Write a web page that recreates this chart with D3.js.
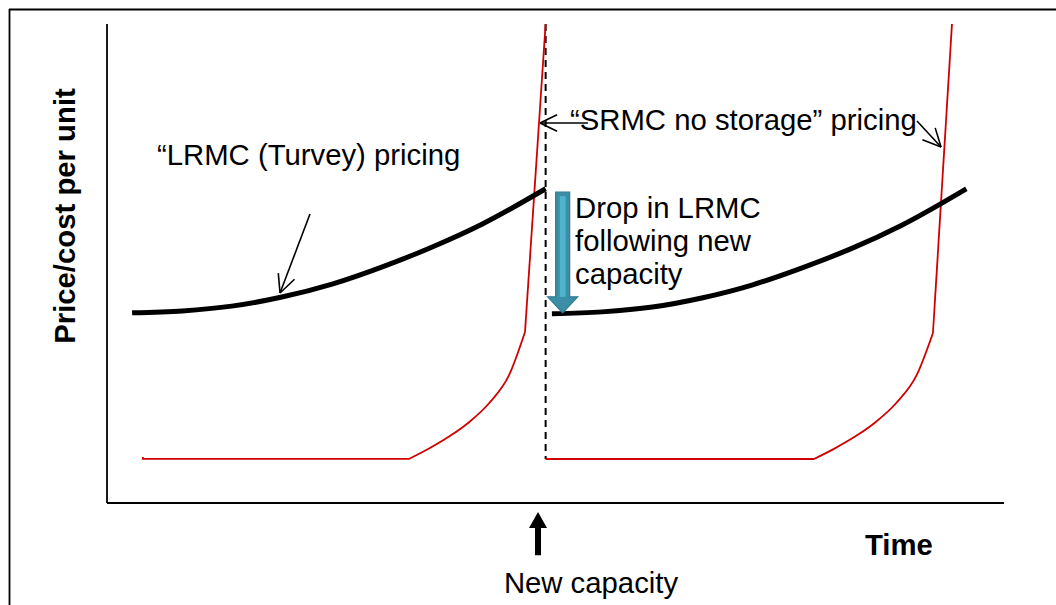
<!DOCTYPE html>
<html><head><meta charset="utf-8">
<script src="https://cdn.jsdelivr.net/npm/d3@7"></script>
<style>
html,body{margin:0;padding:0;background:#fff;}
svg{display:block;}
text{font-family:"Liberation Sans",Arial,sans-serif;}
</style></head>
<body>
<script>
// ---- data (conceptual units: time 0..100, price 0..100) ----
const lrmc1X = [2.8, 8.4, 13.9, 19.5, 25.1, 30.7, 36.2, 41.8, 48.9];
const lrmc1Y = [39.7, 40.1, 41.1, 43.0, 45.7, 49.3, 53.4, 58.2, 65.6];
const lrmc2X = [49.6, 55.2, 60.8, 66.3, 71.9, 77.5, 83.1, 88.6, 95.8];
const lrmc2Y = [39.5, 39.9, 40.9, 42.8, 45.5, 49.1, 53.2, 58.0, 65.6];

const srmc1FlatX = [4.0, 4.0, 33.7];
const srmc1FlatY = [9.6, 9.2, 9.2];
const srmc1CurveX = [33.67, 35.90, 38.13, 40.36, 42.59, 44.82, 46.60];
const srmc1CurveY = [9.19, 11.36, 13.86, 16.87, 20.83, 26.68, 35.70];
const srmc1SteepX = [46.6, 48.9];
const srmc1SteepY = [35.7, 100];

const srmc2FlatX = [48.9, 78.82];
const srmc2FlatY = [9.19, 9.19];
const srmc2CurveX = [78.82, 81.10, 83.39, 85.67, 87.96, 90.26, 92.08];
const srmc2CurveY = [9.19, 11.36, 13.86, 16.87, 20.83, 26.68, 35.49];
const srmc2SteepX = [92.08, 94.2];
const srmc2SteepY = [35.49, 100];

const capacityTime = 48.9;           // new capacity added (dashed line)
const capacityLow = 9.2, capacityHigh = 100;
const dropX = 50.8, dropFrom = 64.9, dropTo = 39.7;   // drop in LRMC arrow

const yAxisLabel = "Price/cost per unit";
const xAxisLabel = "Time";
const labelTurvey = "\u201CLRMC (Turvey) pricing";
const labelSRMC = "\u201CSRMC no storage\u201D pricing";
const labelDrop = ["Drop in LRMC", "following new", "capacity"];
const labelNewCap = "New capacity";

const W = 1056, H = 605;
const svg = d3.select("body").append("svg").attr("width", W).attr("height", H);

const x = d3.scaleLinear().domain([0, 100]).range([107, 1004]);
const y = d3.scaleLinear().domain([0, 100]).range([503, 24]);

// outer frame (top and left visible)
svg.append("line").attr("x1", 9).attr("y1", 9.5).attr("x2", W).attr("y2", 9.5)
  .attr("stroke", "#000").attr("stroke-width", 1.8);
svg.append("line").attr("x1", 9.5).attr("y1", 9).attr("x2", 9.5).attr("y2", H)
  .attr("stroke", "#000").attr("stroke-width", 1.8);

// axes
svg.append("line").attr("x1", x(0)).attr("y1", y(100)).attr("x2", x(0)).attr("y2", y(0))
  .attr("stroke", "#000").attr("stroke-width", 1.8);
svg.append("line").attr("x1", x(0)).attr("y1", y(0)).attr("x2", x(100)).attr("y2", y(0))
  .attr("stroke", "#000").attr("stroke-width", 1.8);

const zip = (xs, ys) => xs.map((v, i) => [v, ys[i]]);
const lineLin = d3.line().x(d => x(d[0])).y(d => y(d[1]));
const lineMono = d3.line().x(d => x(d[0])).y(d => y(d[1])).curve(d3.curveMonotoneX);

// dashed capacity line
svg.append("line").attr("x1", x(capacityTime)).attr("x2", x(capacityTime))
  .attr("y1", y(capacityHigh)).attr("y2", y(capacityLow))
  .attr("stroke", "#000").attr("stroke-width", 2).attr("stroke-dasharray", "7,5");

// SRMC red lines
const red = "#d00000";
[[srmc1FlatX, srmc1FlatY, lineLin], [srmc1CurveX, srmc1CurveY, lineMono], [srmc1SteepX, srmc1SteepY, lineLin],
 [srmc2FlatX, srmc2FlatY, lineLin], [srmc2CurveX, srmc2CurveY, lineMono], [srmc2SteepX, srmc2SteepY, lineLin]]
 .forEach(([xs, ys, gen]) => {
  svg.append("path").attr("d", gen(zip(xs, ys))).attr("fill", "none")
    .attr("stroke", red).attr("stroke-width", 1.8).attr("stroke-linejoin", "round");
 });

// LRMC black curves
[[lrmc1X, lrmc1Y], [lrmc2X, lrmc2Y]].forEach(([xs, ys]) => {
  svg.append("path").attr("d", lineMono(zip(xs, ys))).attr("fill", "none")
    .attr("stroke", "#000").attr("stroke-width", 5);
});

// blue drop arrow
(function () {
  const cx = x(dropX), y0 = y(dropFrom), y1 = y(dropTo);
  const sw = 7, hw = 15, hl = 16;
  const pts = [[cx - sw, y0], [cx + sw, y0], [cx + sw, y1 - hl], [cx + hw, y1 - hl], [cx, y1],
               [cx - hw, y1 - hl], [cx - sw, y1 - hl]];
  svg.append("path").attr("d", "M" + pts.map(p => p.join(",")).join("L") + "Z")
    .attr("fill", "#3a8ea6").attr("stroke", "#2f7c93").attr("stroke-width", 1.2);
  svg.append("rect").attr("x", cx - 3).attr("y", y0 + 4).attr("width", 6).attr("height", (y1 - hl) - y0 - 4)
    .attr("fill", "#4fb3cc");
})();

// thin annotation arrows with open V heads
function arrow(x1, y1, x2, y2, len, ang) {
  const g = svg.append("g").attr("stroke", "#000").attr("stroke-width", 1.6).attr("fill", "none");
  g.append("line").attr("x1", x1).attr("y1", y1).attr("x2", x2).attr("y2", y2);
  const a = Math.atan2(y1 - y2, x1 - x2);
  [ang, -ang].forEach(da => {
    g.append("line").attr("x1", x2).attr("y1", y2)
      .attr("x2", x2 + len * Math.cos(a + da)).attr("y2", y2 + len * Math.sin(a + da));
  });
}
arrow(x(22.63), y(60.33), x(19.29), y(43.84), 20, 0.45);
arrow(x(53.62), y(79.33), x(48.27), y(79.33), 19, 0.45);
arrow(x(90.30), y(79.75), x(92.98), y(74.32), 20, 0.45);

// bold "new capacity" arrow
(function () {
  const cx = x(48.05), yb = y(-10.9), yt = y(-1.9);
  const sw = 3, hw = 9, hl = 16;
  const pts = [[cx - sw, yb], [cx + sw, yb], [cx + sw, yt + hl], [cx + hw, yt + hl], [cx, yt], [cx - hw, yt + hl], [cx - sw, yt + hl]];
  svg.append("path").attr("d", "M" + pts.map(p => p.join(",")).join("L") + "Z").attr("fill", "#000");
})();

// texts
const fs = 29.3;
svg.append("text").attr("x", 157).attr("y", 165).attr("font-size", fs).text(labelTurvey);
svg.append("text").attr("x", 570).attr("y", 130).attr("font-size", fs).text(labelSRMC);
labelDrop.forEach((t, i) => {
  svg.append("text").attr("x", 575).attr("y", 218 + i * 33).attr("font-size", fs).text(t);
});
svg.append("text").attr("x", 591).attr("y", 593).attr("font-size", fs).attr("text-anchor", "middle").text(labelNewCap);
svg.append("text").attr("x", 865).attr("y", 555).attr("font-size", fs).attr("font-weight", "bold").text(xAxisLabel);
svg.append("text").attr("transform", "translate(75,216) rotate(-90)").attr("font-size", fs)
  .attr("font-weight", "bold").attr("text-anchor", "middle").text(yAxisLabel);
</script>
</body></html>
